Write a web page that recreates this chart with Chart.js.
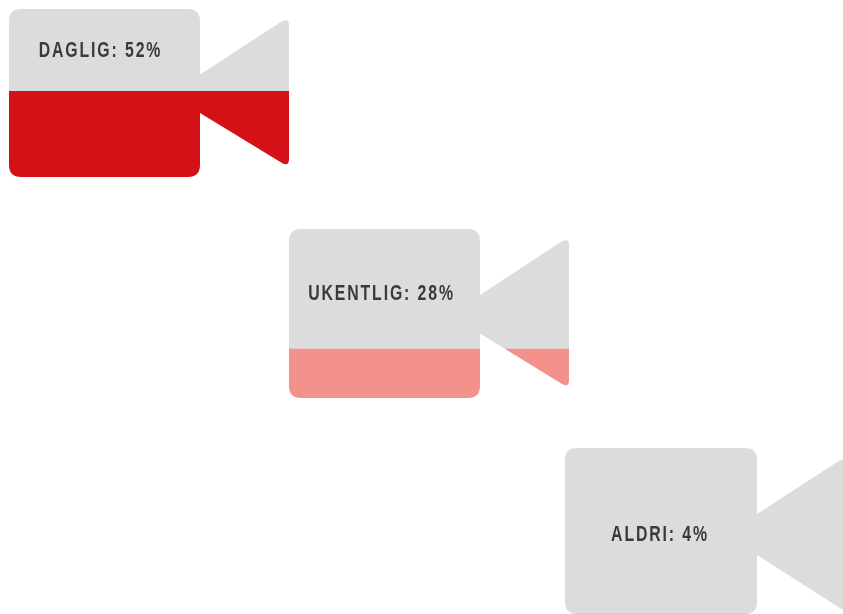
<!DOCTYPE html>
<html>
<head>
<meta charset="utf-8">
<script src="https://cdn.jsdelivr.net/npm/chart.js@4/dist/chart.umd.js"></script>
<style>
  html, body { margin: 0; padding: 0; background: #fff; overflow: hidden; width: 843px; height: 614px; }
  canvas { position: absolute; background: #dcdcdc; }
</style>
</head>
<body>
<canvas id="daglig"></canvas>
<canvas id="ukentlig"></canvas>
<canvas id="aldri"></canvas>
<script>
const categories = ['DAGLIG', 'UKENTLIG', 'ALDRI'];
const percentLabels = [52, 28, 4];
// filled height of each camera
const fillLevels = [51, 29, 0];
const fillColors = ['#d31116', '#f4918a', '#f4918a'];

// camera outline and placement on the page
const layouts = [
  { id: 'daglig', left: 9, top: 9, body: 191, height: 168, gapTop: 65.5, gapBottom: 104, lens: 280, lensBottom: 154, labelX: 91.5, labelY: 42 },
  { id: 'ukentlig', left: 289, top: 229, body: 191, height: 169, gapTop: 66, gapBottom: 104.5, lens: 280, lensBottom: 155, labelX: 92.5, labelY: 65 },
  { id: 'aldri', left: 565, top: 448, body: 192, height: 166, gapTop: 66, gapBottom: 107, lens: 282, lensBottom: 160, labelX: 95, labelY: 87 }
];

function cameraPath(l) {
  const r = 12, h = l.height, b = l.body, e = l.lens;
  return `M${r},0 H${b - r} Q${b},0 ${b},${r} V${l.gapTop} ` +
    `L${e - 9},13.5 Q${e},8 ${e},16 V${l.lensBottom - 4} Q${e},${l.lensBottom + 4} ${e - 7},${l.lensBottom} ` +
    `L${b},${l.gapBottom} V${h - r} Q${b},${h} ${b - r},${h} H${r} Q0,${h} 0,${h - r} V${r} Q0,0 ${r},0 Z`;
}

// no condensed font installed, so the label is squeezed sideways
const labelPlugin = {
  id: 'cameraLabel',
  afterDraw(chart, args, opts) {
    const ctx = chart.ctx;
    ctx.save();
    ctx.translate(opts.x, opts.y);
    ctx.scale(0.72, 1);
    ctx.font = 'bold 22px "Liberation Sans", sans-serif';
    ctx.letterSpacing = '2.6px';
    ctx.fillStyle = '#3a3a3a';
    ctx.textAlign = 'center';
    ctx.textBaseline = 'middle';
    ctx.fillText(opts.text, 0, 0);
    ctx.restore();
  }
};

layouts.forEach((l, i) => {
  const canvas = document.getElementById(l.id);
  canvas.width = l.lens + 1;
  canvas.height = l.height;
  canvas.style.left = l.left + 'px';
  canvas.style.top = l.top + 'px';
  canvas.style.clipPath = `path('${cameraPath(l)}')`;

  new Chart(canvas, {
    type: 'bar',
    data: {
      labels: [categories[i]],
      datasets: [{
        data: [fillLevels[i]],
        backgroundColor: fillColors[i],
        barPercentage: 1,
        categoryPercentage: 1
      }]
    },
    options: {
      responsive: false,
      animation: false,
      layout: { padding: 0 },
      plugins: {
        legend: { display: false },
        tooltip: { enabled: false },
        cameraLabel: { text: `${categories[i]}: ${percentLabels[i]}%`, x: l.labelX, y: l.labelY }
      },
      scales: {
        x: { display: false },
        y: { display: false, min: 0, max: 100 }
      }
    },
    plugins: [labelPlugin]
  });
});
</script>
</body>
</html>
